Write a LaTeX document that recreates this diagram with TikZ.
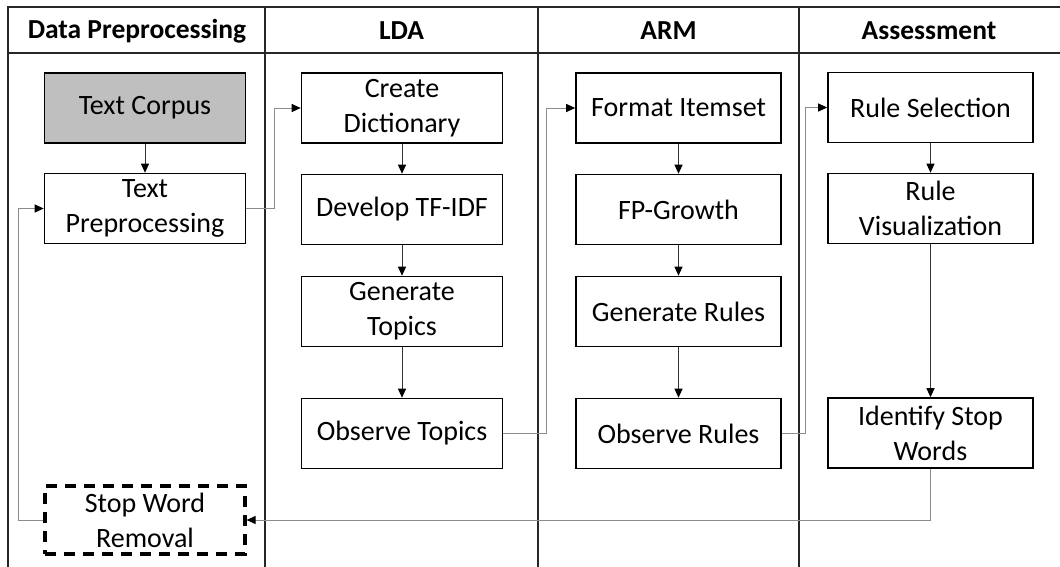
\documentclass[tikz,border=0pt]{standalone}
\usepackage{fontspec}
\setmainfont{Carlito}
\usetikzlibrary{arrows.meta}
\begin{document}
\begin{tikzpicture}[x=1pt,y=-1pt,
  box/.style={draw=black,line width=1.6pt,minimum width=201pt,minimum height=70pt,align=center,font=\fontsize{28}{35}\selectfont,inner sep=0pt},
  hdr/.style={font=\bfseries\fontsize{27.5}{33}\selectfont,anchor=center},
  frame/.style={draw=black!85,line width=1.8pt},
  link/.style={draw=black!45,line width=1pt,-{Triangle[length=9pt,width=8pt,fill=black,color=black]}},
  down/.style={draw=black!80,line width=1pt,-{Triangle[length=9pt,width=8pt,fill=black,color=black]}}
]
\useasboundingbox (0,0) rectangle (1060,566);
% frame
\draw[frame] (1060,7) -- (8,7) -- (8,570);
\draw[frame] (8,53) -- (1060,53);
\draw[frame] (265,7) -- (265,570);
\draw[frame] (538,7) -- (538,570);
\draw[frame] (799,7) -- (799,570);
% headers
\node[hdr] (h1) at (137,31) {Data Preprocessing};
\node[hdr] (h2) at (401.5,31) {LDA};
\node[hdr] (h3) at (668.5,31) {ARM};
\node[hdr] (h4) at (929,31) {Assessment};
% column 1
\node[box,fill=black!25] (tc) at (145,108) {Text Corpus};
\node[box] (tp) at (145,208.5) {Text\\Preprocessing};
\node[box,dash pattern=on 11pt off 8pt,line width=3.2pt,minimum width=200pt,minimum height=68pt] (sw) at (145,520) {Stop Word\\Removal};
% column 2
\node[box] (cd) at (402,108) {Create\\Dictionary};
\node[box] (tf) at (402,209.5) {Develop TF-IDF};
\node[box] (gt) at (402,311.5) {Generate\\Topics};
\node[box] (ot) at (402,433.5) {Observe Topics};
% column 3
\node[box,minimum width=205pt] (fi) at (678.5,108) {Format Itemset};
\node[box,minimum width=205pt] (fp) at (678.5,209.5) {FP-Growth};
\node[box,minimum width=205pt] (gr) at (678.5,311.5) {Generate Rules};
\node[box,minimum width=205pt] (or) at (678.5,433.5) {Observe Rules};
% column 4
\node[box,minimum width=205pt] (rs) at (930.5,107.5) {Rule Selection};
\node[box,minimum width=205pt] (rv) at (930.5,208.5) {Rule\\Visualization};
\node[box,minimum width=205pt] (is) at (930.5,433) {Identify Stop\\Words};
% vertical arrows
\draw[down] (tc) -- (tp);
\draw[down] (cd) -- (tf);
\draw[down] (tf) -- (gt);
\draw[down] (gt) -- (ot);
\draw[down] (fi) -- (fp);
\draw[down] (fp) -- (gr);
\draw[down] (gr) -- (or);
\draw[down] (rs) -- (rv);
\draw[down] (rv) -- (is);
% cross-column links
\draw[link] (tp.east) -- (274,208.5) |- (cd.west);
\draw[link] (ot.east) -- (546,433.5) |- (fi.west);
\draw[link] (or.east) -- (805,433.5) |- (rs.west);
\draw[link] (is.south) |- (sw.east);
\draw[link] (sw.west) -- (18,520) |- (tp.west);
\end{tikzpicture}
\end{document}
